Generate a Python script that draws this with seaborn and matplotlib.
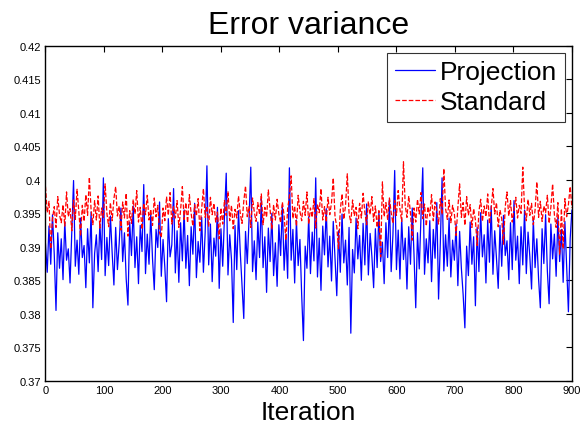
import numpy as np
import pandas as pd
import seaborn as sns
import matplotlib.pyplot as plt
from matplotlib.ticker import FuncFormatter

iteracoes = list(range(0, 901, 3))

projection = [
    0.3905, 0.3862, 0.3931, 0.3874, 0.3948, 0.3889, 0.3805, 0.3921, 0.3868, 0.3912,
    0.3851, 0.3938, 0.3880, 0.3897, 0.3846, 0.3925, 0.3999, 0.3871, 0.3910, 0.3859,
    0.3943, 0.3884, 0.3902, 0.3839, 0.3927, 0.3876, 0.3952, 0.3809, 0.3890, 0.3918,
    0.3863, 0.3935, 0.3881, 0.4003, 0.3857, 0.3914, 0.3872, 0.3946, 0.3891, 0.3843,
    0.3929, 0.3866, 0.3905, 0.3958, 0.3878, 0.3921, 0.3852, 0.3813, 0.3937, 0.3887,
    0.3961, 0.3869, 0.3915, 0.3845, 0.3932, 0.3893, 0.3993, 0.3860, 0.3919, 0.3874,
    0.3949, 0.3882, 0.3836, 0.3926, 0.3899, 0.3967, 0.3856, 0.3911, 0.3870, 0.3818,
    0.3942, 0.3885, 0.3903, 0.3987, 0.3861, 0.3924, 0.3847, 0.3936, 0.3879, 0.3955,
    0.3868, 0.3917, 0.3842, 0.3930, 0.3889, 0.3965, 0.3854, 0.3908, 0.3877, 0.3944,
    0.3862, 0.3921, 0.4021, 0.3873, 0.3934, 0.3848, 0.3913, 0.3886, 0.3959, 0.3838,
    0.3927, 0.3871, 0.3946, 0.4010, 0.3858, 0.3918, 0.3881, 0.3787, 0.3932, 0.3866,
    0.3954, 0.3892, 0.3844, 0.3793, 0.3923, 0.3875, 0.3941, 0.4019, 0.3863, 0.3909,
    0.3851, 0.3937, 0.3884, 0.3972, 0.3869, 0.3915, 0.3832, 0.3928, 0.3878, 0.3950,
    0.3857, 0.3906, 0.3841, 0.3933, 0.3887, 0.3962, 0.3865, 0.3919, 0.3853, 0.4018,
    0.3880, 0.3926, 0.3846, 0.3940, 0.3872, 0.3911, 0.3828, 0.3760, 0.3901, 0.3868,
    0.3945, 0.3860, 0.3922, 0.3879, 0.4003, 0.3855, 0.3913, 0.3835, 0.3931, 0.3888,
    0.3957, 0.3870, 0.3916, 0.3849, 0.3938, 0.3883, 0.3827, 0.3924, 0.3862, 0.3949,
    0.3876, 0.3910, 0.3843, 0.3929, 0.3771, 0.3896, 0.3861, 0.3943, 0.3882, 0.3917,
    0.3850, 0.3935, 0.3873, 0.3964, 0.3858, 0.3920, 0.3886, 0.3839, 0.3927, 0.3869,
    0.3952, 0.3878, 0.3907, 0.3845, 0.3936, 0.3884, 0.3971, 0.3863, 0.3918, 0.4014,
    0.3866, 0.3925, 0.3852, 0.3942, 0.3881, 0.3913, 0.3837, 0.3930, 0.3874, 0.3958,
    0.3889, 0.3809, 0.3921, 0.3867, 0.3946, 0.4018, 0.3859, 0.3912, 0.3876, 0.3939,
    0.3848, 0.3926, 0.3883, 0.3966, 0.3822, 0.3905, 0.4003, 0.3864, 0.3918, 0.3871,
    0.3943, 0.3855, 0.3910, 0.3880, 0.3934, 0.3842, 0.3923, 0.3868, 0.3829, 0.3779,
    0.3901, 0.3857, 0.3937, 0.3874, 0.3915, 0.3812, 0.3929, 0.3863, 0.3951, 0.3885,
    0.3918, 0.3846, 0.3940, 0.3877, 0.3961, 0.3859, 0.3924, 0.3883, 0.3838, 0.3932,
    0.3871, 0.3947, 0.3887, 0.3909, 0.3851, 0.3936, 0.3866, 0.3969, 0.3880, 0.3916,
    0.3845, 0.3930, 0.3873, 0.3955, 0.3860, 0.3922, 0.3886, 0.3837, 0.3941, 0.3869,
    0.3912, 0.3852, 0.3809, 0.3927, 0.3875, 0.3948, 0.3864, 0.3815, 0.3934, 0.3882,
    0.3919, 0.3856, 0.3944, 0.3878, 0.3926, 0.3847, 0.3938, 0.3870, 0.3803, 0.3912,
    0.3955,
]

standard = [
    0.3990, 0.3951, 0.3968, 0.3897, 0.3942, 0.3960, 0.3929, 0.3975, 0.3948, 0.3936,
    0.3963, 0.3931, 0.3982, 0.3945, 0.3957, 0.3924, 0.3970, 0.3941, 0.3986, 0.3953,
    0.3916, 0.3962, 0.3938, 0.3978, 0.3947, 0.4004, 0.3955, 0.3933, 0.3969, 0.3940,
    0.3976, 0.3928, 0.3958, 0.3944, 0.3994, 0.3950, 0.3930, 0.3966, 0.3939, 0.3972,
    0.3990, 0.3946, 0.3961, 0.3925, 0.3967, 0.3943, 0.3980, 0.3916, 0.3954, 0.3935,
    0.3971, 0.3949, 0.3984, 0.3937, 0.3959, 0.3926, 0.3965, 0.3948, 0.3977, 0.3940,
    0.3956, 0.3932, 0.3973, 0.3945, 0.3962, 0.3921, 0.3914, 0.3958, 0.3939, 0.3975,
    0.3947, 0.3981, 0.3934, 0.3960, 0.3943, 0.3969, 0.3929, 0.3955, 0.3990, 0.3941,
    0.3966, 0.3936, 0.3978, 0.3950, 0.3931, 0.3963, 0.3946, 0.3972, 0.3924, 0.3957,
    0.3987, 0.3944, 0.3961, 0.3930, 0.3974, 0.3948, 0.3965, 0.3937, 0.3952, 0.3912,
    0.3958, 0.3934, 0.3970, 0.3947, 0.3983, 0.3939, 0.3962, 0.3927, 0.3956, 0.3943,
    0.3976, 0.3950, 0.3935, 0.3968, 0.3991, 0.3945, 0.3960, 0.3929, 0.3973, 0.3952,
    0.3938, 0.3966, 0.3948, 0.3979, 0.3933, 0.3959, 0.3944, 0.3985, 0.3955, 0.3926,
    0.3963, 0.3940, 0.3971, 0.3949, 0.3936, 0.3967, 0.3946, 0.3910, 0.3957, 0.3975,
    0.4006, 0.3942, 0.3961, 0.3931, 0.3977, 0.3953, 0.3939, 0.3968, 0.3947, 0.3982,
    0.3934, 0.3958, 0.3944, 0.3972, 0.3928, 0.3964, 0.3951, 0.3987, 0.3940, 0.3960,
    0.3937, 0.3974, 0.3948, 0.3966, 0.4003, 0.3945, 0.3930, 0.3897, 0.3955, 0.3979,
    0.3941, 0.3962, 0.4009, 0.3950, 0.3936, 0.3970, 0.3946, 0.3959, 0.3927, 0.3965,
    0.3943, 0.3980, 0.3952, 0.3933, 0.3968, 0.3948, 0.3975, 0.3938, 0.3961, 0.3929,
    0.3954, 0.3885, 0.3997, 0.3945, 0.3966, 0.3940, 0.3973, 0.3951, 0.3935, 0.3969,
    0.3947, 0.3984, 0.3956, 0.3938, 0.4027, 0.3962, 0.3944, 0.3976, 0.3950, 0.3910,
    0.3958, 0.3937, 0.3971, 0.3949, 0.3981, 0.3942, 0.3964, 0.3931, 0.3960, 0.3946,
    0.3978, 0.3939, 0.3967, 0.3953, 0.3934, 0.3972, 0.3948, 0.4017, 0.3957, 0.3941,
    0.3970, 0.3936, 0.3962, 0.3950, 0.3917, 0.3959, 0.3994, 0.3944, 0.3966, 0.3932,
    0.3975, 0.3947, 0.3963, 0.3929, 0.3957, 0.3940, 0.3902, 0.3953, 0.3971, 0.3938,
    0.3961, 0.3945, 0.3979, 0.3934, 0.3958, 0.3987, 0.3949, 0.3966, 0.3930, 0.3955,
    0.3942, 0.3904, 0.3960, 0.3982, 0.3946, 0.3969, 0.3937, 0.3956, 0.3974, 0.3943,
    0.3962, 0.3950, 0.4019, 0.3958, 0.3939, 0.3971, 0.3947, 0.3965, 0.3933, 0.3955,
    0.3997, 0.3944, 0.3968, 0.3938, 0.3961, 0.3951, 0.3977, 0.3935, 0.3959, 0.3994,
    0.3948, 0.3929, 0.3966, 0.3889, 0.3957, 0.3897, 0.3972, 0.3945, 0.3963, 0.3990,
    0.3958,
]

sns.set_style('white')
plt.rcParams['font.family'] = ['Liberation Sans', 'DejaVu Sans']
plt.rcParams['text.color'] = 'black'
plt.rcParams['axes.labelcolor'] = 'black'

fig = plt.figure(figsize=(5.83, 4.27), dpi=100)
ax = fig.add_axes([0.078, 0.106, 0.903, 0.784])

sns.lineplot(x=iteracoes, y=projection, ax=ax, color='blue', linewidth=0.9,
             label='Projection')
sns.lineplot(x=iteracoes, y=standard, ax=ax, color='red', linewidth=0.9,
             linestyle='--', dashes=(7, 4.5), label='Standard')

ax.set_xlim(0, 900)
ax.set_ylim(0.37, 0.42)
ax.set_xticks(range(0, 901, 100))
ax.set_yticks(np.arange(0.37, 0.4201, 0.005))
ax.yaxis.set_major_formatter(FuncFormatter(lambda v, p: '%g' % round(v, 3)))
ax.tick_params(direction='in', length=4, width=0.8, labelsize=8, colors='black',
               top=True, right=True, pad=3)
for s in ax.spines.values():
    s.set_color('black')
    s.set_linewidth(1.0)

ax.set_title('Error variance', fontsize=23, pad=9, color='black')
ax.set_xlabel('Iteration', fontsize=19, labelpad=4, color='black')
ax.set_ylabel('')

leg = ax.legend(loc='upper right', fontsize=19, frameon=True, fancybox=False,
                handlelength=1.5, handletextpad=0.2, borderpad=0.3,
                labelspacing=0.2, borderaxespad=0.25)
leg.get_frame().set_edgecolor('black')
leg.get_frame().set_linewidth(0.8)
for t in leg.get_texts():
    t.set_color('black')

fig.savefig('out.png', dpi=100)
